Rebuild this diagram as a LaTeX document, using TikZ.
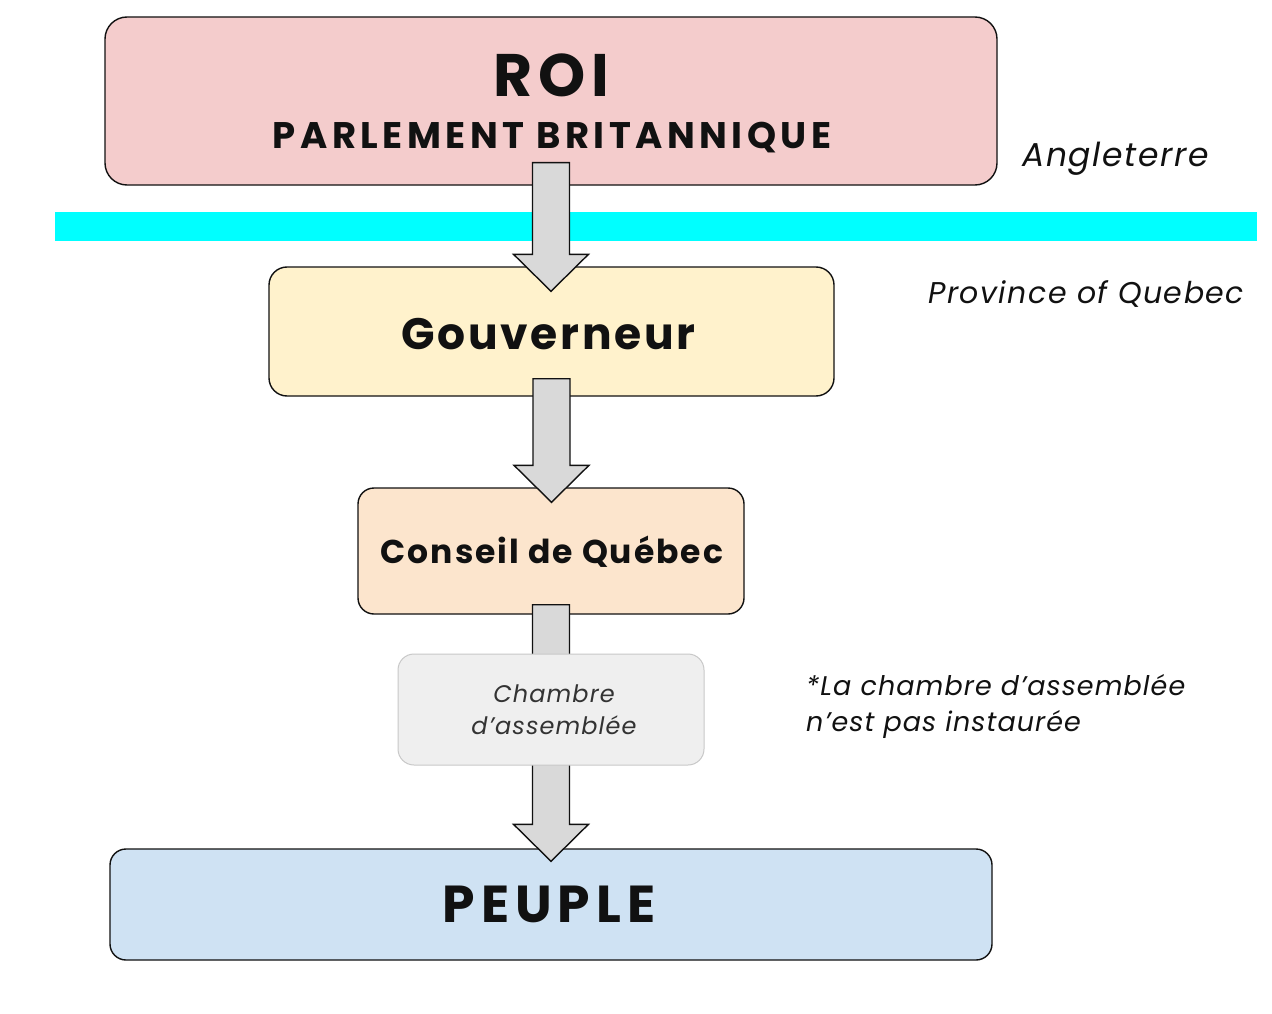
\documentclass[tikz,border=0pt]{standalone}
\usepackage{fontspec}
\setmainfont{Poppins}
\usetikzlibrary{calc}
\definecolor{roipink}{HTML}{F4CCCC}
\definecolor{gouvyellow}{HTML}{FFF2CC}
\definecolor{conseilorange}{HTML}{FCE5CD}
\definecolor{chambregray}{HTML}{EFEFEF}
\definecolor{chambreline}{HTML}{C8C8C8}
\definecolor{peupleblue}{HTML}{CFE2F3}
\definecolor{bandcyan}{HTML}{00FFFF}
\definecolor{arrowgray}{HTML}{D9D9D9}
\definecolor{inkblack}{HTML}{111111}
\newcommand{\fsz}[1]{\fontsize{#1}{#1}\selectfont}
\newcommand{\trk}[1]{\addfontfeature{LetterSpace=#1}}
\newcommand{\blockarrow}[2]{%
  \path let \p1=(#1), \p2=(#2) in
    coordinate (ba-a) at (\x1-18.5pt,\y1)
    coordinate (ba-b) at (\x1+18.5pt,\y1)
    coordinate (ba-c) at (\x1+18.5pt,\y2+37pt)
    coordinate (ba-d) at (\x1+37.5pt,\y2+37pt)
    coordinate (ba-e) at (\x1,\y2)
    coordinate (ba-f) at (\x1-37.5pt,\y2+37pt)
    coordinate (ba-g) at (\x1-18.5pt,\y2+37pt);
  \draw[blockarrowstyle] (ba-a) -- (ba-b) -- (ba-c) -- (ba-d) -- (ba-e) -- (ba-f) -- (ba-g) -- cycle;}
\begin{document}
\begin{tikzpicture}[x=1pt,y=-1pt,
  box/.style={draw=inkblack, line width=1.4pt, rounded corners=22pt, inner sep=0pt},
  blockarrowstyle/.style={draw=inkblack, line width=1.4pt, fill=arrowgray, line join=miter},
  boldtext/.style={text=inkblack, inner sep=0pt},
  sidenote/.style={text=inkblack, inner sep=0pt, anchor=west, align=left}]
\useasboundingbox (0,0) rectangle (1272,1014);
\fill[white] (0,0) rectangle (1272,1014);

% band
\fill[bandcyan] (55,212) rectangle (1257,241);

% boxes
\node[box, fill=roipink, minimum width=892pt, minimum height=168pt] (roi) at (551,101) {};
\node[boldtext, font=\bfseries\fsz{60}\trk{10}] (roitxt) at (551,75) {ROI};
\node[boldtext, font=\bfseries\fsz{37}\trk{12}] (parltxt) at (552,138) {PARLEMENT BRITANNIQUE};

\node[box, fill=gouvyellow, minimum width=565pt, minimum height=129pt, rounded corners=18pt] (gouv) at (551.5,331.5) {};
\node[boldtext, font=\bfseries\fsz{44}\trk{6}] at ($(gouv.center)+(-3,3)$) {Gouverneur};

\node[box, fill=conseilorange, minimum width=386pt, minimum height=126pt, rounded corners=16pt] (conseil) at (551,551) {};
\node[boldtext, font=\bfseries\fsz{33}\trk{6}] at ($(conseil.center)+(1,1)$) {Conseil de Québec};

\node[box, fill=peupleblue, minimum width=882pt, minimum height=111pt, rounded corners=16pt] (peuple) at (551,904.5) {};
\node[boldtext, font=\bfseries\fsz{52}\trk{11.5}] at ($(peuple.center)+(-2,0)$) {PEUPLE};

% arrows
\blockarrow{$(roi.south)+(0,-23)$}{$(gouv.north)+(0,25)$}
\blockarrow{$(gouv.south)+(0,-18)$}{$(conseil.north)+(0,15)$}
\blockarrow{$(conseil.south)+(0,-10)$}{$(peuple.north)+(0,13)$}

% chambre (drawn over the third arrow)
\node[draw=chambreline, line width=1pt, fill=chambregray, rounded corners=16pt, minimum width=306pt, minimum height=111pt, inner sep=0pt,
      text=black!80, font=\itshape\fsz{24}\trk{4.5}, align=center] (chambre) at (551,709.5) {\hspace*{6pt}Chambre\\[8pt]\hspace*{6pt}d’assemblée};

% side notes
\node[sidenote, font=\itshape\fsz{33}\trk{5}] (angl) at (1022,159) {Angleterre};
\node[sidenote, font=\itshape\fsz{30}\trk{5}] (prov) at (928,294) {Province of Quebec};
\node[sidenote, font=\itshape\fsz{27}\trk{4}] (note) at (806,706) {*La chambre d’assemblée\\[9pt]n’est pas instaurée};
\end{tikzpicture}
\end{document}
